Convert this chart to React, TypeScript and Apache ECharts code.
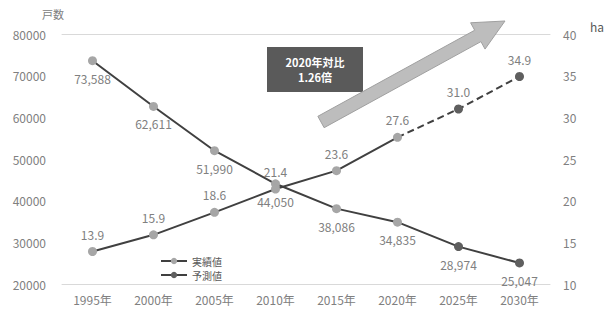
import React, { useEffect, useRef } from "react";
import * as echarts from "echarts";

const years = ["1995年", "2000年", "2005年", "2010年", "2015年", "2020年", "2025年", "2030年"];
const households = [73588, 62611, 51990, 44050, 38086, 34835, 28974, 25047];
const area = [13.9, 15.9, 18.6, 21.4, 23.6, 27.6, 31.0, 34.9];
const isForecast = [false, false, false, false, false, false, true, true];
const legendNames = ["実績値", "予測値"];
const boxLines = ["2020年対比", "1.26倍"];

const LIGHT = "#a6a6a6";
const DARK = "#5f5f5f";
const LINE = "#404040";
const TXT = "#808080";
const FONT = "'Noto Sans CJK JP', 'Noto Sans', sans-serif";

function arrowPoints(tx: number, ty: number, px: number, py: number, sw: number, hw: number, hl: number) {
  const dx = px - tx, dy = py - ty;
  const len = Math.hypot(dx, dy);
  const ux = dx / len, uy = dy / len;
  const nx = -uy, ny = ux;
  const bx = px - hl * ux, by = py - hl * uy;
  return [
    [tx - sw * nx, ty - sw * ny],
    [bx - sw * nx, by - sw * ny],
    [bx - hw * nx, by - hw * ny],
    [px, py],
    [bx + hw * nx, by + hw * ny],
    [bx + sw * nx, by + sw * ny],
    [tx + sw * nx, ty + sw * ny],
  ];
}

export default function App() {
  const ref = useRef<HTMLDivElement>(null);
  useEffect(() => {
    document.body.style.margin = "0";
    if (!ref.current) return;
    const chart = echarts.init(ref.current, null, { renderer: "svg" });
    const hhData = households.map((v, i) => ({
      value: v,
      itemStyle: { color: isForecast[i] ? DARK : LIGHT },
    }));
    const areaActual = area.map((v, i) => (isForecast[i] ? null : v));
    const areaFc = area.map((v, i) => {
      if (isForecast[i]) return { value: v, itemStyle: { color: DARK } };
      if (i + 1 < area.length && isForecast[i + 1]) return { value: v, symbol: "none", label: { show: false } };
      return null;
    });
    const labelStyle = { color: TXT, fontSize: 12, fontFamily: FONT };
    chart.setOption({
      animation: false,
      textStyle: { fontFamily: FONT },
      grid: { left: 62, right: 58, top: 34, bottom: 27 },
      legend: {
        data: legendNames,
        orient: "vertical",
        left: 160,
        top: 256,
        itemWidth: 26,
        itemHeight: 8,
        itemGap: 4,
        padding: 0,
        textStyle: { fontSize: 10, lineHeight: 10, color: "#595959", fontFamily: FONT },
      },
      xAxis: [
        {
          type: "category",
          data: years,
          boundaryGap: true,
          axisLine: { lineStyle: { color: "#d9d9d9", width: 1 } },
          axisTick: { show: false },
          axisLabel: { color: TXT, fontSize: 12, margin: 9, fontFamily: FONT },
        },
        {
          type: "category",
          data: years,
          position: "top",
          axisLine: { lineStyle: { color: "#d9d9d9", width: 1 } },
          axisTick: { show: false },
          axisLabel: { show: false },
        },
      ],
      yAxis: [
        {
          type: "value",
          min: 20000,
          max: 80000,
          interval: 10000,
          axisLine: { show: false },
          axisTick: { show: false },
          splitLine: { show: false },
          axisLabel: { color: TXT, fontSize: 12, margin: 16, fontFamily: FONT, formatter: (v: number) => String(v) },
        },
        {
          type: "value",
          min: 10,
          max: 40,
          interval: 5,
          position: "right",
          axisLine: { show: false },
          axisTick: { show: false },
          splitLine: { show: false },
          axisLabel: { color: TXT, fontSize: 12, margin: 13, fontFamily: FONT },
        },
      ],
      series: [
        {
          name: "戸数",
          type: "line",
          data: hhData,
          xAxisIndex: 0,
          yAxisIndex: 0,
          symbol: "circle",
          symbolSize: 9,
          lineStyle: { color: LINE, width: 2 },
          label: {
            show: true,
            position: "bottom",
            distance: 7,
            ...labelStyle,
            formatter: (p: any) => Number(p.value).toLocaleString("en-US"),
          },
          z: 3,
        },
        {
          name: "面積実績",
          type: "line",
          data: areaActual,
          yAxisIndex: 1,
          symbol: "circle",
          symbolSize: 9,
          itemStyle: { color: LIGHT },
          lineStyle: { color: LINE, width: 2 },
          label: {
            show: true,
            position: "top",
            distance: 7,
            ...labelStyle,
            formatter: (p: any) => Number(p.value).toFixed(1),
          },
          z: 3,
        },
        {
          name: "面積予測",
          type: "line",
          data: areaFc,
          yAxisIndex: 1,
          symbol: "circle",
          symbolSize: 9,
          itemStyle: { color: DARK },
          lineStyle: { color: LINE, width: 2, type: [7, 4] },
          label: {
            show: true,
            position: "top",
            distance: 7,
            ...labelStyle,
            formatter: (p: any) => Number(p.value).toFixed(1),
          },
          z: 3,
        },
        {
          name: legendNames[0],
          type: "line",
          data: [],
          symbol: "circle",
          symbolSize: 8,
          itemStyle: { color: LIGHT },
          lineStyle: { color: LINE, width: 2 },
        },
        {
          name: legendNames[1],
          type: "line",
          data: [],
          symbol: "circle",
          symbolSize: 8,
          itemStyle: { color: DARK },
          lineStyle: { color: LINE, width: 2 },
        },
      ],
      graphic: [
        {
          type: "text",
          left: 42,
          top: 8,
          style: { text: "戸数", fill: "#808080", fontSize: 11, fontFamily: FONT },
        },
        {
          type: "text",
          left: 590,
          top: 20,
          style: { text: "ha", fill: "#595959", fontSize: 12, fontFamily: FONT },
        },
        {
          type: "rect",
          shape: { x: 267, y: 47, width: 96, height: 45 },
          style: { fill: "#5a5a5a" },
          z: 10,
        },
        {
          type: "text",
          x: 315,
          y: 62,
          style: {
            text: boxLines[0],
            fill: "#ffffff",
            fontSize: 11,
            fontWeight: "bold",
            align: "center",
            verticalAlign: "middle",
            fontFamily: FONT,
          },
          z: 11,
        },
        {
          type: "text",
          x: 315,
          y: 77,
          style: {
            text: boxLines[1],
            fill: "#ffffff",
            fontSize: 11,
            fontWeight: "bold",
            align: "center",
            verticalAlign: "middle",
            fontFamily: FONT,
          },
          z: 11,
        },
        {
          type: "polygon",
          shape: { points: arrowPoints(321, 122, 505, 21, 6.5, 15, 31) },
          style: { fill: "#bdbdbd", stroke: "#a0a0a0", lineWidth: 1 },
          z: 12,
        },
      ],
    });
    return () => chart.dispose();
  }, []);
  return <div ref={ref} style={{ width: 608, height: 311 }} />;
}
